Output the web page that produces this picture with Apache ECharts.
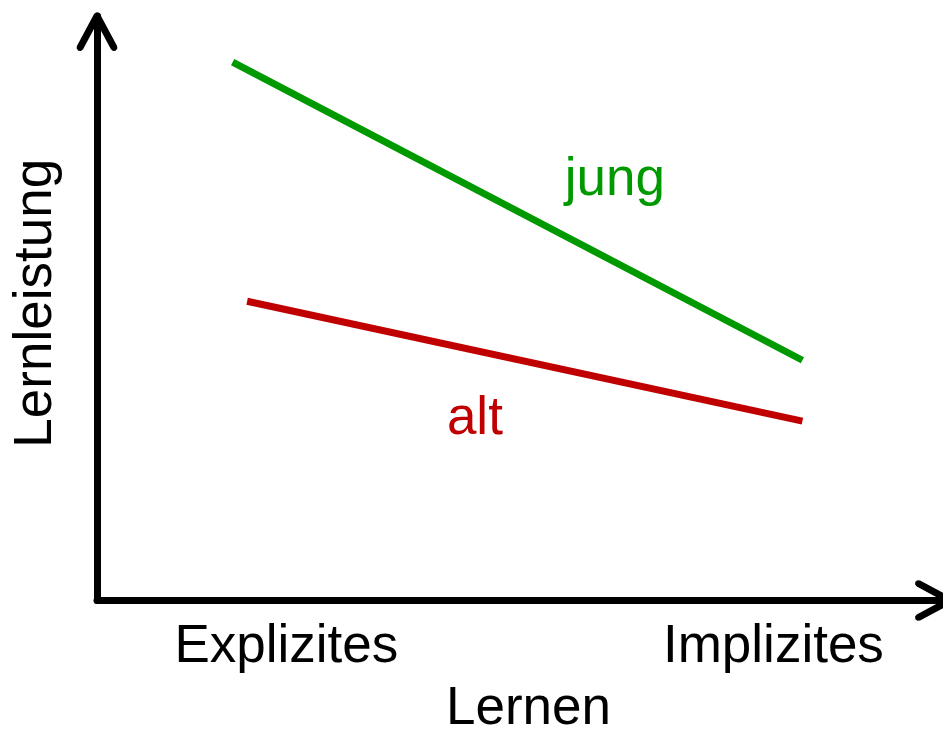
<!DOCTYPE html>
<html>
<head>
<meta charset="utf-8">
<script src="https://cdn.jsdelivr.net/npm/echarts@6/dist/echarts.min.js"></script>
<style>
  html, body { margin: 0; padding: 0; background: #fff; }
  #chart { width: 943px; height: 729px; }
</style>
</head>
<body>
<div id="chart"></div>
<script>
// x: 0..10 (Explizites -> Implizites), y: 0..10 (Lernleistung)
const tickLabels = ['Explizites', 'Implizites']
const tickValues = [2.22, 7.93]
const jung = [[1.59, 9.21], [8.27, 4.11]]
const alt = [[1.76, 5.12], [8.27, 3.07]]

const GREEN = '#009900'
const RED = '#c00000'
const FONT = "'Liberation Sans', Arial, sans-serif"

// open chevron arrow, pointing up, apex centre at (0,0)
const ARROW = 'path://M0,-3.5 L-1.75,-3.03 L-3.08,-1.66 L-20.08,29.94 L-20.35,32.61 L-18.66,34.68 L-15.99,34.95 L-13.92,33.26 L0,7.38 L13.92,33.26 L15.99,34.95 L18.66,34.68 L20.35,32.61 L20.08,29.94 L3.08,-1.66 L1.75,-3.03 Z'

const axisLine = {
  show: true,
  symbol: ['none', ARROW],
  symbolSize: [40.7, 38.45],
  symbolOffset: [0, -15.7],
  lineStyle: { color: '#000', width: 7 }
}

const chart = echarts.init(document.getElementById('chart'))

chart.setOption({
  animation: false,
  grid: { left: 97, right: -7, top: 16, bottom: 128.5, outerBoundsMode: 'none', containLabel: false },
  xAxis: {
    type: 'value',
    min: 0,
    max: 10,
    name: 'Lernen',
    nameLocation: 'middle',
    nameGap: 82,
    nameMoveOverlap: false,
    nameTextStyle: { color: '#000', fontSize: 53, fontFamily: FONT, lineHeight: 53, padding: [0, 0, 0, 10] },
    axisLine: axisLine,
    axisTick: { show: false },
    splitLine: { show: false },
    axisLabel: {
      show: true,
      customValues: tickValues,
      margin: 20,
      color: '#000',
      fontSize: 53,
      lineHeight: 53,
      fontFamily: FONT,
      formatter: (v) => tickLabels[tickValues.indexOf(v)] || ''
    }
  },
  yAxis: {
    type: 'value',
    min: 0,
    max: 10,
    name: 'Lernleistung',
    nameLocation: 'middle',
    nameRotate: 90,
    nameGap: 34,
    nameMoveOverlap: false,
    nameTextStyle: { color: '#000', fontSize: 53, fontFamily: FONT, lineHeight: 53, padding: [0, 0, 0, 10] },
    axisLine: axisLine,
    axisTick: { show: false },
    splitLine: { show: false },
    axisLabel: { show: false }
  },
  series: [
    {
      name: 'jung',
      type: 'line',
      data: jung,
      symbol: 'none',
      lineStyle: { color: GREEN, width: 7, cap: 'butt' },
      markPoint: {
        symbol: 'circle',
        symbolSize: 0,
        label: { show: true, formatter: 'jung', color: GREEN, fontSize: 53, fontFamily: FONT, position: 'inside' },
        data: [{ coord: [6.07, 7.19] }]
      }
    },
    {
      name: 'alt',
      type: 'line',
      data: alt,
      symbol: 'none',
      lineStyle: { color: RED, width: 7, cap: 'butt' },
      markPoint: {
        symbol: 'circle',
        symbolSize: 0,
        label: { show: true, formatter: 'alt', color: RED, fontSize: 53, fontFamily: FONT, position: 'inside' },
        data: [{ coord: [4.43, 3.1] }]
      }
    }
  ]
})
</script>
</body>
</html>
